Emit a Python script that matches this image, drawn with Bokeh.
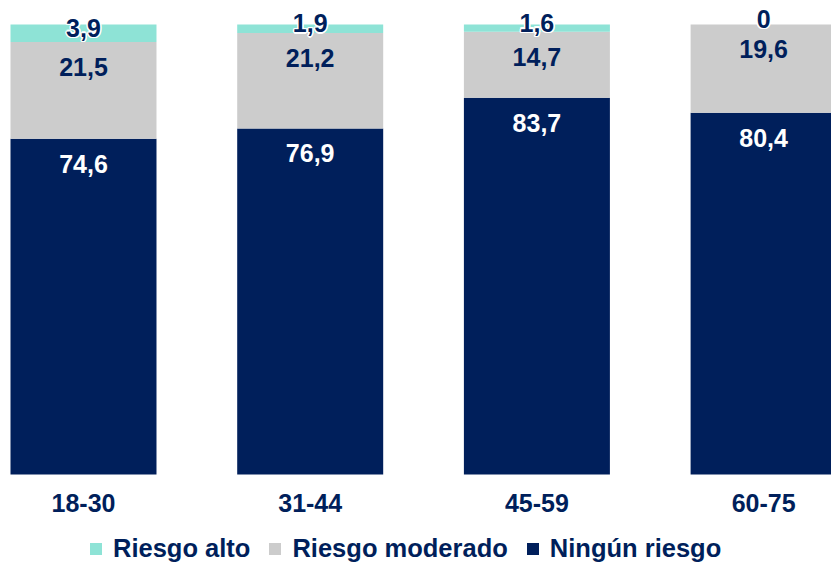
from bokeh.plotting import figure
from bokeh.models import Range1d, Legend, LegendItem, ColumnDataSource
from bokeh.embed import file_html
from bokeh.resources import INLINE
from bokeh.core.properties import value

categories = ["18-30", "31-44", "45-59", "60-75"]
ningun = [74.6, 76.9, 83.7, 80.4]
moderado = [21.5, 21.2, 14.7, 19.6]
alto = [3.9, 1.9, 1.6, 0.0]
series_names = ["Ningún riesgo", "Riesgo moderado", "Riesgo alto"]

NAVY = "#001F5B"
GRAY = "#CCCCCC"
TEAL = "#8EE3D6"
FONT = "Liberation Sans"


def fmt(v):
    return "0" if v == 0 else f"{v:.1f}".replace(".", ",")


x = list(range(len(categories)))
src = ColumnDataSource(dict(x=x, ningun=ningun, moderado=moderado, alto=alto))

p = figure(width=831, height=562,
           x_range=Range1d(-0.3661, 3.2995), y_range=Range1d(-19.556, 105.333),
           output_backend="svg", toolbar_location=None,
           x_axis_type=None, y_axis_type=None,
           min_border=0, outline_line_color=None)
p.grid.visible = False

rs = p.vbar_stack(["ningun", "moderado", "alto"], x="x", width=0.644,
                  fill_color=[NAVY, GRAY, TEAL], line_color=None, source=src)

top1 = ningun
top2 = [a + b for a, b in zip(ningun, moderado)]
mid3 = [t + c / 2 for t, c in zip(top2, alto)]

common = dict(text_font=value(FONT), text_font_style="bold", text_font_size="25px",
              text_align="center", text_baseline="middle")

p.text(x=x, y=top1, text=[fmt(v) for v in ningun], text_color="white", y_offset=25, **common)
p.text(x=x, y=top2, text=[fmt(v) for v in moderado], text_color=NAVY, y_offset=25, **common)
for dx, dy in [(-1.5, 0), (1.5, 0), (0, -1.5), (0, 1.5), (-1.1, -1.1), (1.1, -1.1), (-1.1, 1.1), (1.1, 1.1)]:
    p.text(x=x, y=mid3, text=[fmt(v) for v in alto], text_color="white",
           x_offset=dx, y_offset=-5.5 + dy, **common)
p.text(x=x, y=mid3, text=[fmt(v) for v in alto], text_color=NAVY, y_offset=-5.5, **common)

# category (axis) labels beneath each bar
p.text(x=x, y=[0] * len(categories), text=categories, text_color=NAVY, y_offset=28.5, **common)

legend = Legend(items=[LegendItem(label=series_names[2], renderers=[rs[2]]),
                       LegendItem(label=series_names[1], renderers=[rs[1]]),
                       LegendItem(label=series_names[0], renderers=[rs[0]])],
                orientation="horizontal", location=(88, -1),
                glyph_width=15, glyph_height=15, label_standoff=10, spacing=17,
                padding=0, margin=0, border_line_color=None, background_fill_alpha=0,
                label_text_font=FONT, label_text_font_style="bold",
                label_text_font_size="25.5px", label_text_color=NAVY)
p.add_layout(legend, "center")

open("out.html", "w").write(file_html(p, INLINE))
